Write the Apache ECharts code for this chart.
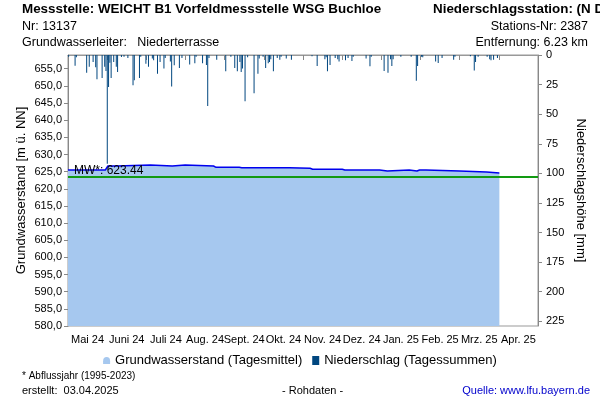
<!DOCTYPE html>
<html>
<head>
<meta charset="utf-8">
<script src="https://cdn.jsdelivr.net/npm/echarts@6/dist/echarts.min.js"></script>
<style>html,body{margin:0;padding:0;background:#fff}#c{width:600px;height:400px}</style>
</head>
<body>
<div id="c"></div>
<script>
var months = ['Mai 24','Juni 24','Juli 24','Aug. 24','Sept. 24','Okt. 24','Nov. 24','Dez. 24','Jan. 25','Feb. 25','Mrz. 25','Apr. 25'];
// day index since 2024-05-01, groundwater level [m ü. NN]
var gwDays = [0,29,31,38,39,64,65,81,82,91,92,113,115,133,135,172,173,188,190,213,215,242,243,248,249,265,266,271,273,278,279,304,305,325,326,335];
var gwVals = [625.48,625.48,626.65,626.65,626.94,626.94,626.65,626.65,626.94,626.94,626.65,626.65,626.26,626.26,626.15,626.15,625.97,625.97,625.68,625.68,625.48,625.48,625.19,625.19,625.48,625.48,625.19,625.19,625.48,625.48,625.19,625.19,624.9,624.9,624.6,624.6];
// precipitation day index and daily sums [mm]
var rainDays = [0,5,6,14,16,19,21,22,26,28,29,30,31,32,33,35,37,38,41,43,46,50,51,55,56,60,62,65,66,69,71,74,75,79,80,82,86,88,
94,98,99,104,107,108,109,115,122,126,129,131,133,134,135,137,139,144,147,148,151,153,155,156,157,159,162,164,165,169,173,
189,193,199,200,201,203,207,209,210,215,217,220,221,231,234,235,245,248,250,251,252,258,266,270,271,274,
275,285,287,290,299,300,312,315,316,318,325,327,328,330,333];
var rainVals = [1.4,9,2,15,10,6,10.4,20.5,19.5,10,13.5,92,27,6.5,19.5,6,10,14.4,1.7,1.5,2.5,25.6,21.4,19.5,1.5,7.3,10,3,4.5,15.8,6,11.5,2.5,5.5,26.7,8.7,11,2.5,
8,7,1.5,7,8.5,43,2.5,4,13.8,1.5,11,13.8,6,14.4,11.5,39,2,32.4,15.8,3,1.5,11,7,6,3.5,13.8,2.5,4,1.5,3,4,
1,9.3,3.5,2,13.8,8.5,2.5,3.5,5.5,4.5,2.5,5,1.5,3,9.5,1.5,13.5,15,3.5,9.3,3.5,1.5,1.5,21.7,9.3,1.5,
2,5.5,6.7,2.5,4,1.5,1,13,6,1.5,1.5,3.5,4.5,4,2.5];
var meanValue = 623.44;

var FONT = 'Liberation Sans, Arial, sans-serif';
var gwData = gwDays.map(function(d,i){return [d, gwVals[i]];});
var rainData = rainDays.map(function(d,i){return [d+0.5, rainVals[i]];});

var chart = echarts.init(document.getElementById('c'), null, {renderer:'canvas'});
chart.setOption({
  animation:false,
  backgroundColor:'#fff',
  grid:{left:68,right:62,top:55,bottom:74,show:true,borderColor:'#999',borderWidth:1,backgroundColor:'transparent'},
  xAxis:[{
    type:'category', data:months, boundaryGap:true, position:'bottom',
    axisLine:{show:true,lineStyle:{color:'#999'}},
    axisTick:{show:true,interval:0,length:5,lineStyle:{color:'#888'}},
    axisLabel:{interval:0,fontSize:11,color:'#000',fontFamily:FONT,margin:8},
    splitLine:{show:false}
  },{
    type:'value', min:0, max:365, show:false
  }],
  yAxis:[{
    type:'value', min:580, max:659, interval:5, position:'left',
    name:'Grundwasserstand [m ü. NN]', nameLocation:'middle', nameRotate:90, nameGap:40, nameMoveOverlap:false,
    nameTextStyle:{fontSize:13,color:'#000',fontFamily:FONT},
    axisLine:{show:true,lineStyle:{color:'#888'}},
    axisTick:{show:true,length:4,lineStyle:{color:'#888'}},
    axisLabel:{fontSize:11,color:'#000',fontFamily:FONT,margin:6,showMaxLabel:false,
      formatter:function(v){return v.toFixed(1).replace('.',',');}},
    splitLine:{show:false}
  },{
    type:'value', min:0, max:229, interval:25, inverse:true, position:'right',
    name:'Niederschlagshöhe [mm]', nameLocation:'middle', nameRotate:-90, nameGap:36, nameMoveOverlap:false,
    nameTextStyle:{fontSize:13,color:'#000',fontFamily:FONT},
    axisLine:{show:true,lineStyle:{color:'#888'}},
    axisTick:{show:true,length:4,lineStyle:{color:'#888'}},
    axisLabel:{fontSize:11,color:'#000',fontFamily:FONT,margin:8,showMaxLabel:false},
    splitLine:{show:false}
  }],
  legend:{
    top:349, left:'center', itemWidth:7, itemHeight:9, itemGap:10,
    textStyle:{fontSize:13,color:'#000',fontFamily:FONT},
    data:[
      {name:'Grundwasserstand (Tagesmittel)', icon:'path://M0,10 L0,6 Q0,0 5,0 Q10,0 10,6 L10,10 Z', itemStyle:{color:'#a6c8ef'}},
      {name:'Niederschlag (Tagessummen)', icon:'rect', itemStyle:{color:'#00467f'}}
    ]
  },
  series:[{
    name:'Grundwasserstand (Tagesmittel)', type:'line', xAxisIndex:1, yAxisIndex:0,
    data:gwData, symbol:'none', showSymbol:false,
    lineStyle:{color:'#0000ee',width:1.5},
    itemStyle:{color:'#a6c8ef'},
    areaStyle:{color:'#a6c8ef',opacity:1,origin:'start'},
    z:2,
    markLine:{
      silent:true, symbol:'none',
      lineStyle:{color:'#129a12',width:2,type:'solid'},
      label:{show:true,position:'insideStartTop',formatter:'MW*: ' + meanValue.toFixed(2),
        color:'#000',fontSize:12,fontFamily:FONT,distance:[6,0]},
      data:[{yAxis:meanValue}]
    }
  },{
    name:'Niederschlag (Tagessummen)', type:'bar', xAxisIndex:1, yAxisIndex:1,
    data:rainData, barWidth:1, itemStyle:{color:'#00467f'}, z:3
  }],
  graphic:[
    {type:'text',left:22,top:3,style:{text:'Messstelle: WEICHT B1 Vorfeldmessstelle WSG Buchloe',font:'bold 13.4px '+FONT,fill:'#000'}},
    {type:'text',left:22,top:20,style:{text:'Nr: 13137',font:'12.5px '+FONT,fill:'#000'}},
    {type:'text',left:22,top:36,style:{text:'Grundwasserleiter:   Niederterrasse',font:'12.5px '+FONT,fill:'#000'}},
    {type:'text',left:433,top:3,style:{text:'Niederschlagsstation: (N D',font:'bold 13.4px '+FONT,fill:'#000'}},
    {type:'text',right:12,top:20,style:{text:'Stations-Nr: 2387',font:'12.5px '+FONT,fill:'#000'}},
    {type:'text',right:12,top:36,style:{text:'Entfernung: 6.23 km',font:'12.5px '+FONT,fill:'#000'}},
    {type:'text',left:22,top:371,style:{text:'* Abflussjahr (1995-2023)',font:'10px '+FONT,fill:'#000'}},
    {type:'text',left:22,top:385,style:{text:'erstellt:  03.04.2025',font:'11px '+FONT,fill:'#000'}},
    {type:'text',left:282,top:385,style:{text:'- Rohdaten -',font:'11px '+FONT,fill:'#000'}},
    {type:'text',right:10,top:385,style:{text:'Quelle: www.lfu.bayern.de',font:'11px '+FONT,fill:'#0000cc'}}
  ]
});
</script>
</body>
</html>
